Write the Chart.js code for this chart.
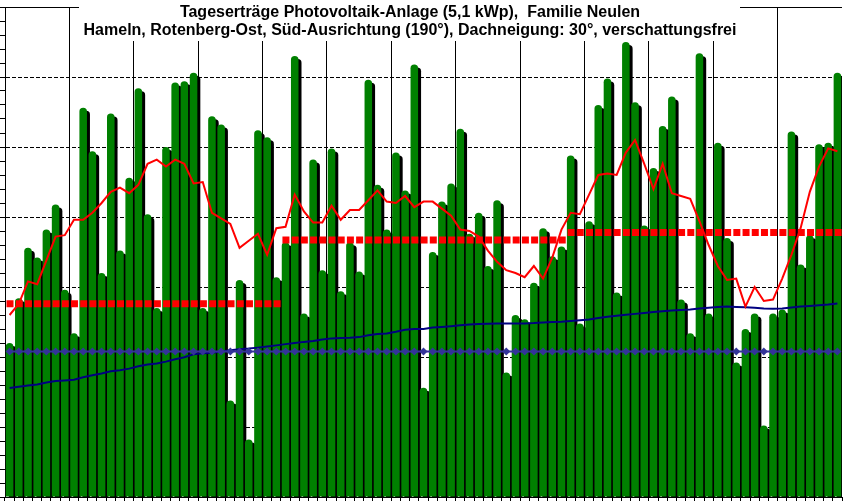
<!DOCTYPE html>
<html>
<head>
<meta charset="utf-8">
<script src="https://cdn.jsdelivr.net/npm/chart.js@4"></script>
<style>
  html, body { margin: 0; padding: 0; background: #fff; }
  canvas { display: block; }
</style>
</head>
<body>
<canvas id="grafik" width="846" height="501"></canvas>
<script>
const titelZeilen = [
  "Tageserträge Photovoltaik-Anlage (5,1 kWp),  Familie Neulen",
  "Hameln, Rotenberg-Ost, Süd-Ausrichtung (190°), Dachneigung: 30°, verschattungsfrei"
];

const monatsNummer = [4, 5, 6];
const monatsTage = [30, 31, 30];

// Tagesertraege in kWh
const ertragApril = [11.0, 14.2, 17.8, 17.1, 19.1, 20.9, 14.8, 11.7, 27.8, 24.7,
  16.0, 27.4, 17.6, 22.8, 29.2, 20.2, 13.5, 25.0, 29.6, 29.7,
  30.3, 13.5, 27.2, 26.6, 6.9, 15.5, 4.1, 26.2, 25.7, 15.7];
const ertragMai = [18.2, 31.5, 13.1, 24.1, 16.2, 24.9, 14.7, 18.2, 16.1, 29.8,
  22.3, 19.1, 24.6, 21.9, 30.9, 7.8, 17.5, 21.1, 22.4, 26.3,
  18.8, 20.3, 16.5, 21.2, 8.9, 13.0, 12.7, 15.3, 19.2, 17.2, 17.9];
const ertragJuni = [24.4, 12.4, 19.7, 28.0, 29.9, 14.6, 32.5, 28.2, 19.4, 23.5,
  26.5, 28.6, 14.1, 11.7, 31.7, 13.1, 25.3, 18.5, 9.6, 12.0,
  13.1, 5.1, 13.1, 13.4, 26.1, 16.6, 18.7, 25.2, 25.3, 30.3];

// gleitender Mittelwert (rot)
const gleitenderMittel = [13.0, 13.8, 15.4, 15.2, 16.9, 18.6, 18.7, 19.8, 19.8, 20.3,
  21.0, 21.8, 22.1, 21.7, 22.3, 23.8, 24.1, 23.6, 24.1, 23.8,
  22.4, 22.5, 20.3, 19.9, 19.5, 17.8, 18.3, 18.8, 17.3, 19.2,
  19.3, 21.6, 20.4, 19.6, 19.6, 20.8, 19.8, 20.5, 20.5, 21.2,
  21.9, 21.1, 21.0, 21.5, 20.7, 21.1, 21.1, 20.6, 20.1, 19.1,
  19.0, 18.6, 17.6, 16.8, 16.2, 16.0, 15.7, 16.5, 15.6, 17.1,
  19.1, 20.3, 20.2, 21.6, 23.0, 23.1, 23.0, 24.6, 25.5, 23.8,
  22.0, 23.8, 21.7, 21.5, 21.3, 19.7, 18.0, 16.5, 15.5, 15.6,
  13.6, 15.0, 14.0, 14.1, 15.6, 17.3, 19.2, 21.8, 23.6, 24.9,
  24.7];

// Mittelwert seit Jahresbeginn (blau)
const jahresMittel = [7.78, 7.88, 7.96, 8.04, 8.18, 8.28, 8.32, 8.37, 8.55, 8.7,
  8.82, 8.98, 9.06, 9.17, 9.34, 9.47, 9.54, 9.67, 9.84, 9.98,
  10.2, 10.26, 10.31, 10.39, 10.48, 10.55, 10.6, 10.67, 10.75, 10.83,
  10.92, 11.0, 11.08, 11.14, 11.25, 11.33, 11.36, 11.38, 11.42, 11.55,
  11.65, 11.68, 11.8, 11.95, 12.0, 12.0, 12.1, 12.15, 12.2, 12.26,
  12.32, 12.36, 12.38, 12.4, 12.4, 12.4, 12.4, 12.42, 12.46, 12.5,
  12.52, 12.57, 12.63, 12.68, 12.78, 12.88, 12.95, 13.01, 13.08, 13.15,
  13.22, 13.27, 13.32, 13.36, 13.4, 13.46, 13.52, 13.57, 13.6, 13.58,
  13.55, 13.52, 13.47, 13.44, 13.46, 13.53, 13.6, 13.65, 13.7, 13.75,
  13.82];

const sollWert = 10.4;
const monatsMittel = [13.8, 18.35, 18.9];

const tage = [];
monatsTage.forEach((n, m) => {
  for (let d = 1; d <= n; d++) tage.push(d + "." + monatsNummer[m] + ".");
});
const ertrag = ertragApril.concat(ertragMai, ertragJuni);

// Monatsbalken (rot gestrichelt) ueber die ganze Monatsbreite
const monatsLinien = [];
let start = 0;
monatsTage.forEach((n, m) => {
  monatsLinien.push({
    type: "line",
    xAxisID: "xm",
    data: [{ x: start - 0.5, y: monatsMittel[m] }, { x: start + n - 0.5, y: monatsMittel[m] }],
    borderColor: "#ff0000",
    borderWidth: 7,
    borderDash: [7, 2.21],
    borderDashOffset: -1.5,
    borderCapStyle: "butt",
    pointRadius: 0,
    order: 3
  });
  start += n;
});

const rahmen = {
  id: "rahmen",
  // Schatten hinter den Balken
  beforeDatasetDraw(chart, args) {
    if (args.index === 0) {
      const c = chart.ctx;
      c.save();
      c.shadowColor = "#000";
      c.shadowOffsetX = 3;
      c.shadowOffsetY = 3;
      c.shadowBlur = 0;
    }
  },
  afterDatasetDraw(chart, args) {
    if (args.index === 0) chart.ctx.restore();
  },
  afterDraw(chart) {
    const c = chart.ctx, a = chart.chartArea;
    c.save();
    c.strokeStyle = "#000";
    c.lineWidth = 1;
    c.beginPath();
    c.moveTo(a.left, Math.round(a.top) + 0.5);
    c.lineTo(a.right, Math.round(a.top) + 0.5);
    c.stroke();
    c.fillStyle = "#fff";
    c.fillRect(79, 0, 661, 41);
    c.fillStyle = "#000";
    c.font = 'bold 16px "Liberation Sans", Arial, sans-serif';
    c.textAlign = "center";
    c.fillText(titelZeilen[0], 410, 17);
    c.fillText(titelZeilen[1], 410, 35);
    c.restore();
  }
};

new Chart(document.getElementById("grafik"), {
  type: "bar",
  data: {
    labels: tage,
    datasets: [
      {
        label: "Tagesertrag",
        data: ertrag,
        backgroundColor: "rgb(0,128,0)",
        borderWidth: 0,
        borderRadius: 4,
        grouped: false,
        barPercentage: 0.82,
        categoryPercentage: 1,
        order: 10
      },
      {
        type: "line",
        label: "Mittel seit Jahresbeginn",
        data: jahresMittel,
        borderColor: "#000080",
        borderWidth: 2,
        pointRadius: 0,
        order: 5
      },
      {
        type: "line",
        label: "Sollwert",
        data: tage.map(() => sollWert),
        borderColor: "#333399",
        backgroundColor: "#333399",
        borderWidth: 2,
        pointStyle: "rectRot",
        pointRadius: 4,
        pointBorderWidth: 0,
        order: 4
      },
      ...monatsLinien,
      {
        type: "line",
        label: "gleitender Mittelwert",
        data: gleitenderMittel,
        borderColor: "#ff0000",
        borderWidth: 2,
        pointRadius: 0,
        order: 2
      }
    ]
  },
  options: {
    responsive: false,
    animation: false,
    devicePixelRatio: 1,
    layout: { padding: { top: 7, right: 3, left: 0, bottom: 0 } },
    plugins: { legend: { display: false }, title: { display: false }, tooltip: { enabled: false } },
    scales: {
      x: {
        type: "category",
        offset: true,
        grid: {
          offset: true,
          color: (c) => (c.index > 0 && c.index % 7 === 0 ? "#000" : "transparent"),
          tickColor: "#000",
          tickLength: 4,
          lineWidth: 1
        },
        ticks: { display: false },
        border: { color: "#000", width: 1 }
      },
      xm: { type: "linear", min: -0.5, max: 90.5, offset: false, display: false },
      y: {
        min: 0,
        max: 35,
        ticks: { stepSize: 1, display: false },
        grid: {
          color: (c) => (c.tick && c.tick.value % 5 === 0 && c.tick.value > 0 && c.tick.value < 35 ? "#000" : "transparent"),
          tickColor: "#000",
          tickLength: 5,
          lineWidth: 1
        },
        border: { color: "#000", width: 1, dash: [4, 2] }
      }
    }
  },
  plugins: [rahmen]
});
</script>
</body>
</html>
